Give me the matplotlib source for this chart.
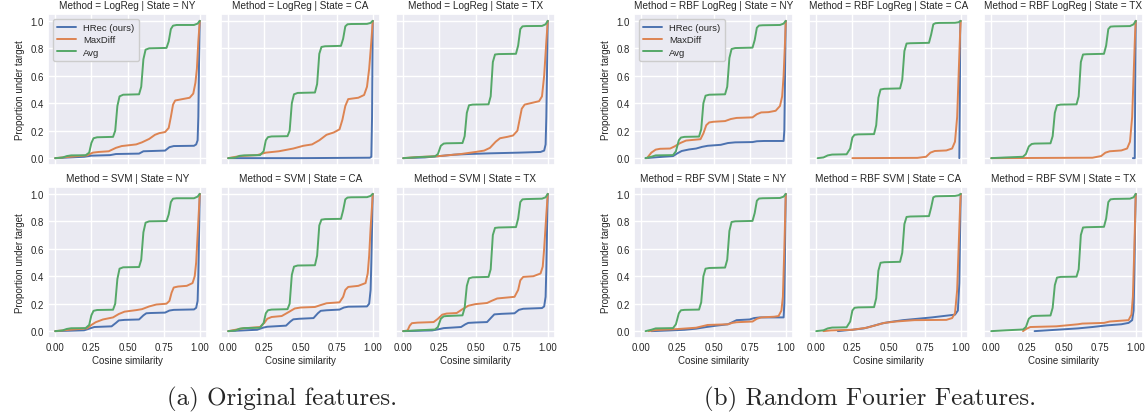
import matplotlib
matplotlib.use("Agg")
import matplotlib.pyplot as plt
import seaborn as sns

sns.set_theme(style="darkgrid")
plt.rcParams["font.family"] = ["Liberation Sans", "DejaVu Sans"]

# series labels / colours (seaborn deep)
series_names = ["HRec (ours)", "MaxDiff", "Avg"]
series_colors = ["#4C72B0", "#DD8452", "#55A868"]

x_ticks = [0.0, 0.25, 0.5, 0.75, 1.0]
y_ticks = [0.0, 0.2, 0.4, 0.6, 0.8, 1.0]

# ---- (a) original features -------------------------------------------------
logreg_ny_hrec = [(0.0, 0.0), (0.2, 0.01), (0.25, 0.018), (0.38, 0.022), (0.42, 0.03), (0.58, 0.033),
                  (0.61, 0.05), (0.76, 0.055), (0.79, 0.08), (0.82, 0.088), (0.96, 0.09), (0.975, 0.1),
                  (0.985, 0.13), (0.99, 0.3), (0.995, 0.7), (1.0, 1.0)]
logreg_ny_maxdiff = [(0.0, 0.0), (0.1, 0.01), (0.22, 0.02), (0.26, 0.04), (0.3, 0.045), (0.37, 0.05),
                     (0.42, 0.075), (0.46, 0.088), (0.56, 0.1), (0.6, 0.115), (0.65, 0.14), (0.69, 0.17),
                     (0.72, 0.182), (0.76, 0.19), (0.785, 0.22), (0.8, 0.3), (0.815, 0.39), (0.83, 0.42),
                     (0.88, 0.43), (0.93, 0.44), (0.955, 0.47), (0.97, 0.55), (0.98, 0.65), (0.99, 0.85),
                     (1.0, 1.0)]
logreg_ny_avg = [(0.0, 0.0), (0.05, 0.004), (0.08, 0.015), (0.11, 0.02), (0.21, 0.021), (0.235, 0.04),
                 (0.25, 0.11), (0.265, 0.145), (0.29, 0.152), (0.4, 0.155), (0.415, 0.2), (0.43, 0.38),
                 (0.445, 0.45), (0.47, 0.462), (0.58, 0.465), (0.595, 0.52), (0.61, 0.72), (0.625, 0.79),
                 (0.65, 0.8), (0.77, 0.803), (0.785, 0.85), (0.8, 0.94), (0.815, 0.965), (0.84, 0.97),
                 (0.96, 0.97), (0.985, 0.98), (1.0, 1.0)]

logreg_ca_hrec = [(0.0, 0.0), (0.5, 0.0), (0.98, 0.003), (0.99, 0.01), (0.995, 0.3), (1.0, 1.0)]
logreg_ca_maxdiff = [(0.0, 0.0), (0.08, 0.015), (0.2, 0.022), (0.26, 0.04), (0.35, 0.05), (0.45, 0.07),
                     (0.52, 0.09), (0.58, 0.1), (0.63, 0.13), (0.68, 0.17), (0.73, 0.187), (0.77, 0.21),
                     (0.79, 0.28), (0.81, 0.38), (0.83, 0.43), (0.9, 0.44), (0.94, 0.46), (0.96, 0.52),
                     (0.975, 0.65), (0.99, 0.85), (1.0, 1.0)]
logreg_ca_avg = [(0.0, 0.0), (0.05, 0.004), (0.08, 0.017), (0.11, 0.02), (0.22, 0.022), (0.245, 0.05),
                 (0.26, 0.13), (0.275, 0.153), (0.3, 0.158), (0.41, 0.16), (0.425, 0.2), (0.44, 0.4),
                 (0.455, 0.465), (0.48, 0.475), (0.6, 0.478), (0.615, 0.54), (0.63, 0.76), (0.645, 0.81),
                 (0.67, 0.815), (0.78, 0.818), (0.795, 0.87), (0.81, 0.96), (0.825, 0.975), (0.85, 0.977),
                 (0.96, 0.978), (0.985, 0.985), (1.0, 1.0)]

logreg_tx_hrec = [(0.0, 0.0), (0.15, 0.005), (0.25, 0.015), (0.35, 0.025), (0.45, 0.03), (0.6, 0.035),
                  (0.8, 0.04), (0.95, 0.045), (0.975, 0.055), (0.985, 0.1), (0.99, 0.3), (0.995, 0.65),
                  (1.0, 1.0)]
logreg_tx_maxdiff = [(0.0, 0.0), (0.1, 0.008), (0.25, 0.015), (0.4, 0.03), (0.5, 0.045), (0.56, 0.055),
                     (0.6, 0.075), (0.64, 0.12), (0.67, 0.145), (0.72, 0.155), (0.76, 0.165), (0.79, 0.2),
                     (0.805, 0.28), (0.82, 0.36), (0.84, 0.39), (0.88, 0.4), (0.94, 0.415), (0.96, 0.45),
                     (0.975, 0.6), (0.99, 0.85), (1.0, 1.0)]
logreg_tx_avg = [(0.0, 0.0), (0.1, 0.007), (0.22, 0.013), (0.24, 0.03), (0.26, 0.09), (0.28, 0.106),
                 (0.3, 0.108), (0.41, 0.11), (0.425, 0.16), (0.44, 0.33), (0.455, 0.385), (0.48, 0.39),
                 (0.59, 0.392), (0.605, 0.45), (0.62, 0.7), (0.635, 0.755), (0.66, 0.758), (0.78, 0.76),
                 (0.795, 0.82), (0.81, 0.94), (0.825, 0.96), (0.85, 0.962), (0.96, 0.963), (0.985, 0.975),
                 (1.0, 1.0)]

svm_ny_hrec = [(0.0, 0.0), (0.2, 0.006), (0.24, 0.02), (0.27, 0.03), (0.39, 0.035), (0.42, 0.06),
               (0.44, 0.078), (0.48, 0.082), (0.58, 0.085), (0.61, 0.115), (0.63, 0.13), (0.66, 0.132),
               (0.76, 0.135), (0.79, 0.15), (0.82, 0.155), (0.96, 0.158), (0.975, 0.17), (0.985, 0.22),
               (0.99, 0.4), (0.995, 0.7), (1.0, 1.0)]
svm_ny_maxdiff = [(0.0, 0.0), (0.1, 0.01), (0.22, 0.02), (0.25, 0.045), (0.28, 0.065), (0.33, 0.085),
                  (0.4, 0.1), (0.44, 0.125), (0.48, 0.142), (0.56, 0.153), (0.6, 0.16), (0.65, 0.18),
                  (0.7, 0.194), (0.77, 0.2), (0.79, 0.22), (0.805, 0.28), (0.82, 0.318), (0.85, 0.325),
                  (0.91, 0.33), (0.95, 0.35), (0.965, 0.4), (0.975, 0.5), (0.985, 0.7), (1.0, 1.0)]
svm_ny_avg = [(0.0, 0.0), (0.05, 0.005), (0.08, 0.016), (0.11, 0.021), (0.21, 0.022), (0.235, 0.045),
              (0.25, 0.115), (0.265, 0.148), (0.29, 0.154), (0.4, 0.156), (0.415, 0.2), (0.43, 0.38),
              (0.445, 0.455), (0.47, 0.465), (0.58, 0.467), (0.595, 0.52), (0.61, 0.72), (0.625, 0.79),
              (0.65, 0.8), (0.77, 0.802), (0.785, 0.85), (0.8, 0.94), (0.815, 0.965), (0.84, 0.968),
              (0.96, 0.968), (0.985, 0.98), (1.0, 1.0)]

svm_ca_hrec = [(0.0, 0.0), (0.2, 0.01), (0.24, 0.025), (0.27, 0.032), (0.4, 0.04), (0.43, 0.07),
               (0.45, 0.086), (0.49, 0.09), (0.59, 0.095), (0.62, 0.13), (0.64, 0.148), (0.68, 0.152),
               (0.77, 0.157), (0.8, 0.172), (0.83, 0.178), (0.96, 0.18), (0.975, 0.2), (0.985, 0.3),
               (0.99, 0.5), (0.995, 0.75), (1.0, 1.0)]
svm_ca_maxdiff = [(0.0, 0.0), (0.1, 0.02), (0.22, 0.03), (0.25, 0.06), (0.27, 0.09), (0.3, 0.103),
                  (0.37, 0.11), (0.42, 0.14), (0.46, 0.165), (0.5, 0.172), (0.6, 0.176), (0.64, 0.19),
                  (0.68, 0.203), (0.77, 0.21), (0.795, 0.25), (0.81, 0.3), (0.83, 0.322), (0.9, 0.33),
                  (0.95, 0.35), (0.965, 0.42), (0.975, 0.55), (0.985, 0.75), (1.0, 1.0)]
svm_ca_avg = [(0.0, 0.0), (0.05, 0.005), (0.08, 0.018), (0.11, 0.022), (0.22, 0.025), (0.245, 0.06),
              (0.26, 0.13), (0.275, 0.152), (0.3, 0.157), (0.41, 0.16), (0.425, 0.2), (0.44, 0.41),
              (0.455, 0.47), (0.48, 0.478), (0.6, 0.48), (0.615, 0.55), (0.63, 0.77), (0.645, 0.812),
              (0.67, 0.816), (0.78, 0.818), (0.795, 0.88), (0.81, 0.96), (0.825, 0.973), (0.85, 0.975),
              (0.96, 0.976), (0.985, 0.985), (1.0, 1.0)]

svm_tx_hrec = [(0.0, 0.0), (0.2, 0.005), (0.25, 0.015), (0.28, 0.022), (0.4, 0.03), (0.43, 0.05),
               (0.45, 0.06), (0.5, 0.063), (0.58, 0.066), (0.61, 0.1), (0.63, 0.122), (0.68, 0.126),
               (0.77, 0.13), (0.8, 0.155), (0.83, 0.163), (0.96, 0.168), (0.975, 0.18), (0.985, 0.25),
               (0.99, 0.45), (0.995, 0.75), (1.0, 1.0)]
svm_tx_maxdiff = [(0.0, 0.0), (0.03, 0.005), (0.045, 0.04), (0.06, 0.058), (0.1, 0.062), (0.21, 0.066),
                  (0.24, 0.09), (0.27, 0.12), (0.3, 0.128), (0.37, 0.132), (0.41, 0.16), (0.45, 0.185),
                  (0.5, 0.197), (0.58, 0.205), (0.61, 0.22), (0.65, 0.238), (0.7, 0.243), (0.77, 0.25),
                  (0.795, 0.3), (0.81, 0.37), (0.83, 0.395), (0.9, 0.4), (0.95, 0.42), (0.965, 0.47),
                  (0.975, 0.6), (0.99, 0.85), (1.0, 1.0)]
svm_tx_avg = [(0.0, 0.0), (0.1, 0.006), (0.22, 0.012), (0.24, 0.03), (0.26, 0.09), (0.28, 0.108),
              (0.3, 0.11), (0.41, 0.115), (0.425, 0.17), (0.44, 0.33), (0.455, 0.385), (0.48, 0.392),
              (0.59, 0.395), (0.605, 0.45), (0.62, 0.7), (0.635, 0.752), (0.66, 0.755), (0.78, 0.758),
              (0.795, 0.82), (0.81, 0.94), (0.825, 0.96), (0.85, 0.962), (0.96, 0.965), (0.985, 0.975),
              (1.0, 1.0)]

# ---- (b) random Fourier features -------------------------------------------
rbf_logreg_ny_hrec = [(0.03, 0.0), (0.15, 0.01), (0.22, 0.015), (0.25, 0.035), (0.28, 0.052), (0.33, 0.063),
                      (0.38, 0.07), (0.42, 0.082), (0.46, 0.09), (0.55, 0.097), (0.6, 0.11), (0.65, 0.115),
                      (0.77, 0.117), (0.8, 0.123), (0.85, 0.125), (0.985, 0.125), (0.99, 0.2), (0.995, 0.6),
                      (1.0, 1.0)]
rbf_logreg_ny_maxdiff = [(0.04, 0.0), (0.07, 0.04), (0.1, 0.062), (0.13, 0.068), (0.2, 0.07), (0.23, 0.085),
                         (0.27, 0.11), (0.31, 0.128), (0.35, 0.132), (0.41, 0.138), (0.43, 0.18), (0.45, 0.24),
                         (0.47, 0.26), (0.5, 0.265), (0.58, 0.27), (0.62, 0.285), (0.66, 0.293), (0.77, 0.297),
                         (0.8, 0.32), (0.83, 0.333), (0.88, 0.335), (0.93, 0.345), (0.96, 0.38), (0.975, 0.45),
                         (0.985, 0.6), (0.995, 0.85), (1.0, 1.0)]
rbf_logreg_ny_avg = [(0.03, 0.0), (0.07, 0.01), (0.1, 0.02), (0.22, 0.022), (0.24, 0.05), (0.26, 0.13),
                     (0.275, 0.15), (0.3, 0.155), (0.4, 0.157), (0.415, 0.21), (0.43, 0.4), (0.445, 0.455),
                     (0.47, 0.462), (0.58, 0.465), (0.595, 0.52), (0.61, 0.73), (0.625, 0.795), (0.65, 0.802),
                     (0.77, 0.805), (0.785, 0.86), (0.8, 0.95), (0.815, 0.966), (0.84, 0.968), (0.96, 0.97),
                     (0.985, 0.98), (1.0, 1.0)]

rbf_logreg_ca_hrec = [(0.99, 0.0), (0.994, 0.5), (0.997, 1.0)]
rbf_logreg_ca_maxdiff = [(0.25, 0.0), (0.7, 0.002), (0.76, 0.01), (0.79, 0.04), (0.82, 0.052), (0.9, 0.056),
                         (0.94, 0.07), (0.96, 0.12), (0.975, 0.3), (0.985, 0.6), (0.995, 0.9), (1.0, 1.0)]
rbf_logreg_ca_avg = [(0.01, 0.0), (0.05, 0.005), (0.08, 0.02), (0.11, 0.026), (0.21, 0.028), (0.235, 0.07),
                     (0.25, 0.15), (0.265, 0.17), (0.29, 0.173), (0.4, 0.175), (0.415, 0.24), (0.43, 0.44),
                     (0.445, 0.5), (0.47, 0.505), (0.58, 0.508), (0.595, 0.57), (0.61, 0.78), (0.625, 0.835),
                     (0.65, 0.837), (0.78, 0.84), (0.795, 0.9), (0.81, 0.975), (0.825, 0.983), (0.85, 0.985),
                     (0.96, 0.986), (0.985, 0.99), (1.0, 1.0)]

rbf_logreg_tx_hrec = [(0.98, 0.0), (0.993, 0.0), (0.996, 0.5), (1.0, 1.0)]
rbf_logreg_tx_maxdiff = [(0.0, 0.0), (0.7, 0.003), (0.76, 0.015), (0.79, 0.04), (0.82, 0.05), (0.9, 0.056),
                         (0.94, 0.07), (0.96, 0.12), (0.975, 0.3), (0.985, 0.6), (0.995, 0.9), (1.0, 1.0)]
rbf_logreg_tx_avg = [(0.0, 0.0), (0.1, 0.005), (0.22, 0.01), (0.24, 0.03), (0.26, 0.085), (0.28, 0.103),
                     (0.3, 0.106), (0.41, 0.108), (0.425, 0.16), (0.44, 0.33), (0.455, 0.385), (0.48, 0.39),
                     (0.59, 0.392), (0.605, 0.45), (0.62, 0.7), (0.635, 0.755), (0.66, 0.757), (0.78, 0.76),
                     (0.795, 0.82), (0.81, 0.94), (0.825, 0.958), (0.85, 0.96), (0.96, 0.962), (0.985, 0.975),
                     (1.0, 1.0)]

rbf_svm_ny_hrec = [(0.07, 0.0), (0.2, 0.005), (0.3, 0.01), (0.38, 0.018), (0.45, 0.03), (0.52, 0.04),
                   (0.6, 0.05), (0.63, 0.065), (0.66, 0.08), (0.75, 0.085), (0.78, 0.095), (0.82, 0.1),
                   (0.985, 0.1), (0.99, 0.2), (0.995, 0.6), (1.0, 1.0)]
rbf_svm_ny_maxdiff = [(0.05, 0.0), (0.1, 0.008), (0.25, 0.015), (0.38, 0.025), (0.42, 0.035), (0.46, 0.045),
                      (0.6, 0.05), (0.63, 0.06), (0.66, 0.065), (0.77, 0.07), (0.8, 0.09), (0.83, 0.1),
                      (0.92, 0.105), (0.95, 0.11), (0.97, 0.15), (0.98, 0.25), (0.99, 0.6), (1.0, 1.0)]
rbf_svm_ny_avg = [(0.03, 0.0), (0.07, 0.01), (0.1, 0.02), (0.22, 0.022), (0.24, 0.05), (0.26, 0.13),
                  (0.275, 0.152), (0.3, 0.155), (0.4, 0.157), (0.415, 0.21), (0.43, 0.4), (0.445, 0.455),
                  (0.47, 0.46), (0.58, 0.463), (0.595, 0.52), (0.61, 0.73), (0.625, 0.795), (0.65, 0.8),
                  (0.77, 0.803), (0.785, 0.86), (0.8, 0.95), (0.815, 0.966), (0.84, 0.968), (0.96, 0.97),
                  (0.985, 0.98), (1.0, 1.0)]

rbf_svm_ca_hrec = [(0.15, 0.0), (0.25, 0.01), (0.33, 0.02), (0.4, 0.04), (0.45, 0.055), (0.5, 0.065),
                   (0.6, 0.08), (0.7, 0.09), (0.8, 0.1), (0.88, 0.11), (0.96, 0.12), (0.98, 0.15),
                   (0.99, 0.35), (0.995, 0.7), (1.0, 1.0)]
rbf_svm_ca_maxdiff = [(0.05, 0.0), (0.1, 0.005), (0.25, 0.01), (0.35, 0.025), (0.42, 0.045), (0.47, 0.06),
                      (0.55, 0.07), (0.68, 0.08), (0.9, 0.082), (0.94, 0.095), (0.96, 0.13), (0.975, 0.3),
                      (0.985, 0.6), (0.995, 0.9), (1.0, 1.0)]
rbf_svm_ca_avg = [(0.0, 0.0), (0.05, 0.006), (0.08, 0.02), (0.11, 0.026), (0.21, 0.028), (0.235, 0.07),
                  (0.25, 0.15), (0.265, 0.17), (0.29, 0.173), (0.4, 0.175), (0.415, 0.24), (0.43, 0.44),
                  (0.445, 0.498), (0.47, 0.502), (0.58, 0.505), (0.595, 0.57), (0.61, 0.78), (0.625, 0.832),
                  (0.65, 0.835), (0.78, 0.838), (0.795, 0.9), (0.81, 0.975), (0.825, 0.982), (0.85, 0.983),
                  (0.96, 0.985), (0.985, 0.99), (1.0, 1.0)]

rbf_svm_tx_hrec = [(0.3, 0.0), (0.45, 0.01), (0.6, 0.02), (0.7, 0.03), (0.8, 0.042), (0.9, 0.05),
                   (0.95, 0.06), (0.975, 0.08), (0.985, 0.15), (0.99, 0.4), (0.995, 0.75), (1.0, 1.0)]
rbf_svm_tx_maxdiff = [(0.22, 0.0), (0.24, 0.015), (0.27, 0.03), (0.45, 0.035), (0.55, 0.045), (0.6, 0.05),
                      (0.63, 0.055), (0.78, 0.06), (0.82, 0.07), (0.95, 0.08), (0.97, 0.12), (0.98, 0.25),
                      (0.99, 0.6), (1.0, 1.0)]
rbf_svm_tx_avg = [(0.0, 0.0), (0.1, 0.006), (0.22, 0.012), (0.24, 0.03), (0.26, 0.09), (0.28, 0.108),
                  (0.3, 0.111), (0.41, 0.114), (0.425, 0.17), (0.44, 0.335), (0.455, 0.39), (0.48, 0.395),
                  (0.59, 0.397), (0.605, 0.45), (0.62, 0.7), (0.635, 0.755), (0.66, 0.757), (0.78, 0.76),
                  (0.795, 0.82), (0.81, 0.94), (0.825, 0.96), (0.85, 0.963), (0.96, 0.965), (0.985, 0.975),
                  (1.0, 1.0)]

# panel grids: (method, state, [hrec, maxdiff, avg])
group_a = [
    [("LogReg", "NY", [logreg_ny_hrec, logreg_ny_maxdiff, logreg_ny_avg]),
     ("LogReg", "CA", [logreg_ca_hrec, logreg_ca_maxdiff, logreg_ca_avg]),
     ("LogReg", "TX", [logreg_tx_hrec, logreg_tx_maxdiff, logreg_tx_avg])],
    [("SVM", "NY", [svm_ny_hrec, svm_ny_maxdiff, svm_ny_avg]),
     ("SVM", "CA", [svm_ca_hrec, svm_ca_maxdiff, svm_ca_avg]),
     ("SVM", "TX", [svm_tx_hrec, svm_tx_maxdiff, svm_tx_avg])],
]
group_b = [
    [("RBF LogReg", "NY", [rbf_logreg_ny_hrec, rbf_logreg_ny_maxdiff, rbf_logreg_ny_avg]),
     ("RBF LogReg", "CA", [rbf_logreg_ca_hrec, rbf_logreg_ca_maxdiff, rbf_logreg_ca_avg]),
     ("RBF LogReg", "TX", [rbf_logreg_tx_hrec, rbf_logreg_tx_maxdiff, rbf_logreg_tx_avg])],
    [("RBF SVM", "NY", [rbf_svm_ny_hrec, rbf_svm_ny_maxdiff, rbf_svm_ny_avg]),
     ("RBF SVM", "CA", [rbf_svm_ca_hrec, rbf_svm_ca_maxdiff, rbf_svm_ca_avg]),
     ("RBF SVM", "TX", [rbf_svm_tx_hrec, rbf_svm_tx_maxdiff, rbf_svm_tx_avg])],
]

W, H = 1148, 414
fig = plt.figure(figsize=(W / 100, H / 100), dpi=100)


def px_axes(left, top, width, height):
    return fig.add_axes([left / W, 1 - (top + height) / H, width / W, height / H])


def draw_group(grid, lefts, caption, caption_x):
    tops = [15, 188]
    for r, row in enumerate(grid):
        for c, (method, state, curves) in enumerate(row):
            ax = px_axes(lefts[c], tops[r], 159, 151)
            for pts, name, col in zip(curves, series_names, series_colors):
                xs = [p[0] for p in pts]
                ys = [p[1] for p in pts]
                ax.plot(xs, ys, color=col, lw=1.4, label=name)
            ax.set_xlim(-0.05, 1.05)
            ax.set_ylim(-0.05, 1.05)
            ax.set_xticks(x_ticks)
            ax.set_yticks(y_ticks)
            ax.tick_params(labelsize=6.9, length=0, pad=3)
            ax.set_title(f"Method = {method} | State = {state}", fontsize=7.2, pad=4)
            if c == 0:
                ax.set_ylabel("Proportion under target", fontsize=7)
            else:
                ax.tick_params(labelleft=False)
            if r == 1:
                ax.set_xlabel("Cosine similarity", fontsize=7, labelpad=2)
                ax.set_xticklabels(["0.00", "0.25", "0.50", "0.75", "1.00"])
            else:
                ax.tick_params(labelbottom=False)
            if r == 0 and c == 0:
                ax.legend(loc="upper left", fontsize=6.8, handlelength=2.0, borderpad=0.45,
                          labelspacing=0.35, framealpha=1.0)
    fig.text(caption_x / W, 1 - 399 / H, caption, ha="center", va="center",
             fontsize=18, family="cmr10")


draw_group(group_a, [48, 221, 396], "(a) Original features.", 282)
draw_group(group_b, [634, 809, 984], "(b) Random Fourier Features.", 870)

plt.savefig("out.png", dpi=100)
